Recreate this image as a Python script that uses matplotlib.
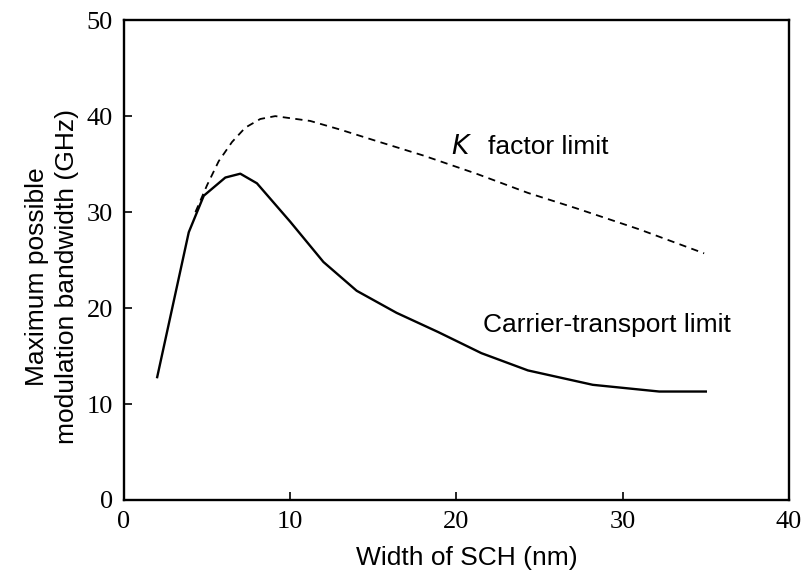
import matplotlib.pyplot as plt

# --- Data ---
# Carrier-transport limit (solid)
ct_width = [2.0, 3.9, 4.8, 6.1, 7.0, 8.0, 10.0, 12.0, 14.0, 16.4, 18.9, 21.5, 24.3, 28.2, 32.2, 35.0]
ct_bw = [12.8, 27.9, 31.7, 33.6, 34.0, 33.0, 29.0, 24.8, 21.8, 19.5, 17.5, 15.3, 13.5, 12.0, 11.3, 11.3]

# K factor limit (dashed)
k_width = [4.3, 5.0, 5.7, 6.5, 7.3, 8.2, 9.1, 11.2, 13.0, 15.2, 18.0, 21.2, 24.3, 27.2, 31.0, 34.9]
k_bw = [30.0, 32.8, 35.3, 37.3, 38.8, 39.7, 40.0, 39.5, 38.6, 37.4, 35.9, 34.0, 32.0, 30.4, 28.2, 25.7]

x_ticks = [0, 10, 20, 30, 40]
y_ticks = [0, 10, 20, 30, 40, 50]

serif = ["Liberation Serif", "DejaVu Serif"]
sans = ["Liberation Sans", "DejaVu Sans"]

fig = plt.figure(figsize=(8.1, 5.76), dpi=100)
ax = fig.add_axes([0.153, 0.132, 0.821, 0.833])

ax.plot(ct_width, ct_bw, color="black", lw=1.7, solid_joinstyle="round")
ax.plot(k_width, k_bw, color="black", lw=1.3, dashes=(4, 3))

ax.set_xlim(0, 40)
ax.set_ylim(0, 50)
ax.set_xticks(x_ticks)
ax.set_yticks(y_ticks)
ax.tick_params(direction="in", length=6, width=1.2, top=False, right=False, pad=8)
for lab in ax.get_xticklabels() + ax.get_yticklabels():
    lab.set_family(serif)
    lab.set_fontsize(19)

for sp in ax.spines.values():
    sp.set_linewidth(1.7)

ax.set_xlabel("Width of SCH (nm)", fontsize=19, family=sans)
ax.set_ylabel("Maximum possible\nmodulation bandwidth (GHz)", fontsize=19,
              family=sans, linespacing=1.3)
ax.xaxis.set_label_coords(0.515, -0.095)
ax.yaxis.set_label_coords(-0.068, 0.465)

# Curve labels
ax.text(19.7, 36.8, "$K$", fontsize=19, family=sans, va="center")
ax.text(21.9, 36.8, "factor limit", fontsize=19, family=sans, va="center")
ax.text(21.6, 18.2, "Carrier-transport limit", fontsize=19, family=sans, va="center")

fig.savefig("out.png", dpi=100)
